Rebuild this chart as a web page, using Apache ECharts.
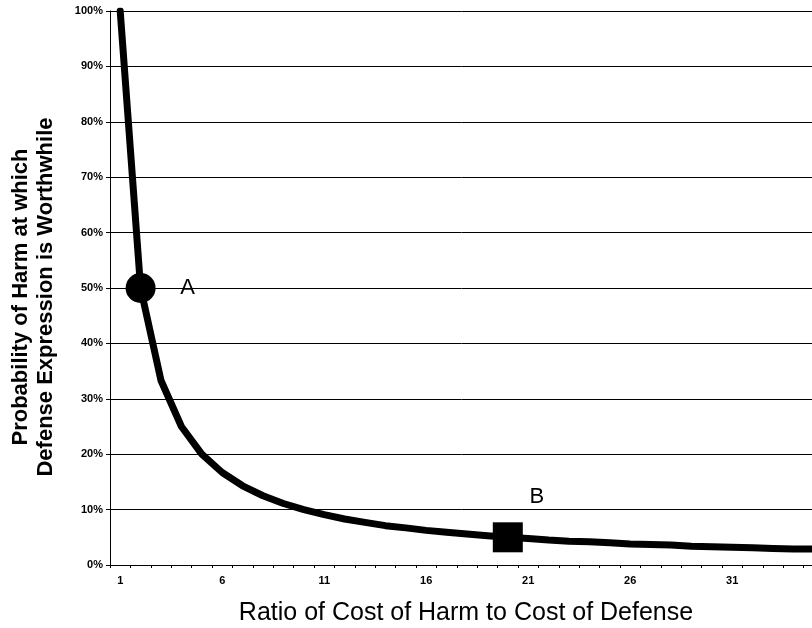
<!DOCTYPE html>
<html>
<head>
<meta charset="utf-8">
<script src="https://cdn.jsdelivr.net/npm/echarts@6/dist/echarts.min.js"></script>
<style>html,body{margin:0;padding:0;background:#fff}#c{width:812px;height:628px}</style>
</head>
<body>
<div id="c"></div>
<script>
var categories = ['1','2','3','4','5','6','7','8','9','10','11','12','13','14','15','16','17','18','19','20','21','22','23','24','25','26','27','28','29','30','31','32','33','34','35'];
var probability = [1.0,0.5,0.333,0.25,0.2,0.167,0.143,0.125,0.111,0.1,0.091,0.083,0.077,0.071,0.067,0.0625,0.059,0.056,0.053,0.05,0.048,0.045,0.043,0.042,0.04,0.038,0.037,0.036,0.034,0.033,0.032,0.031,0.030,0.029,0.029];
var pointA = ['2', 0.5];
var pointB = ['20', 0.05];
var yTicks = [0,0.1,0.2,0.3,0.4,0.5,0.6,0.7,0.8,0.9,1.0];
var xTitle = 'Ratio of Cost of Harm to Cost of Defense';
var yTitle = ['Probability of Harm at which', 'Defense Expression is Worthwhile'];

var chart = echarts.init(document.getElementById('c'));
chart.setOption({
  animation: false,
  backgroundColor: '#fff',
  textStyle: {fontFamily: 'Liberation Sans, Arial, sans-serif'},
  grid: {left: 110, top: 11, bottom: 63, width: 714, containLabel: false, outerBoundsMode: 'none'},
  xAxis: {
    type: 'category',
    data: categories,
    boundaryGap: true,
    axisLine: {lineStyle: {color: '#000', width: 1}},
    axisTick: {show: true, inside: false, length: 3, interval: 0, lineStyle: {color: '#000'}},
    axisLabel: {interval: 4, margin: 10, fontSize: 11, fontWeight: 'bold', color: '#000'},
    splitLine: {show: false}
  },
  yAxis: {
    type: 'value',
    min: yTicks[0],
    max: yTicks[yTicks.length - 1],
    interval: 0.1,
    axisLine: {show: true, lineStyle: {color: '#000', width: 1}},
    axisTick: {show: true, length: 4, lineStyle: {color: '#000'}},
    axisLabel: {margin: 7, fontSize: 11, fontWeight: 'bold', color: '#000',
      formatter: function (v) { return Math.round(v * 100) + '%'; }},
    splitLine: {show: true, lineStyle: {color: '#000', width: 1}}
  },
  series: [
    {
      type: 'line',
      data: probability,
      symbol: 'none',
      lineStyle: {color: '#000', width: 7, join: 'round', cap: 'round'},
      z: 2
    },
    {
      type: 'scatter',
      data: [pointA],
      symbol: 'circle',
      symbolSize: 30,
      itemStyle: {color: '#000', opacity: 1},
      label: {show: true, formatter: 'A', position: 'inside', offset: [47, 0], fontSize: 22, color: '#000'},
      z: 3
    },
    {
      type: 'scatter',
      data: [pointB],
      symbol: 'rect',
      symbolSize: 30,
      itemStyle: {color: '#000', opacity: 1},
      label: {show: true, formatter: 'B', position: 'inside', offset: [29, -40], fontSize: 22, color: '#000'},
      z: 3
    }
  ],
  graphic: [
    {type: 'text', x: 466, y: 613,
      style: {text: xTitle, fontSize: 25, fill: '#000', align: 'center', verticalAlign: 'middle', fontFamily: 'Liberation Sans, Arial, sans-serif'}},
    {type: 'text', x: 33, y: 297, rotation: Math.PI / 2,
      style: {text: yTitle.join('\n'), fontSize: 22, fontWeight: 'bold', lineHeight: 25, fill: '#000', align: 'center', verticalAlign: 'middle', fontFamily: 'Liberation Sans, Arial, sans-serif'}}
  ]
});
</script>
</body>
</html>
